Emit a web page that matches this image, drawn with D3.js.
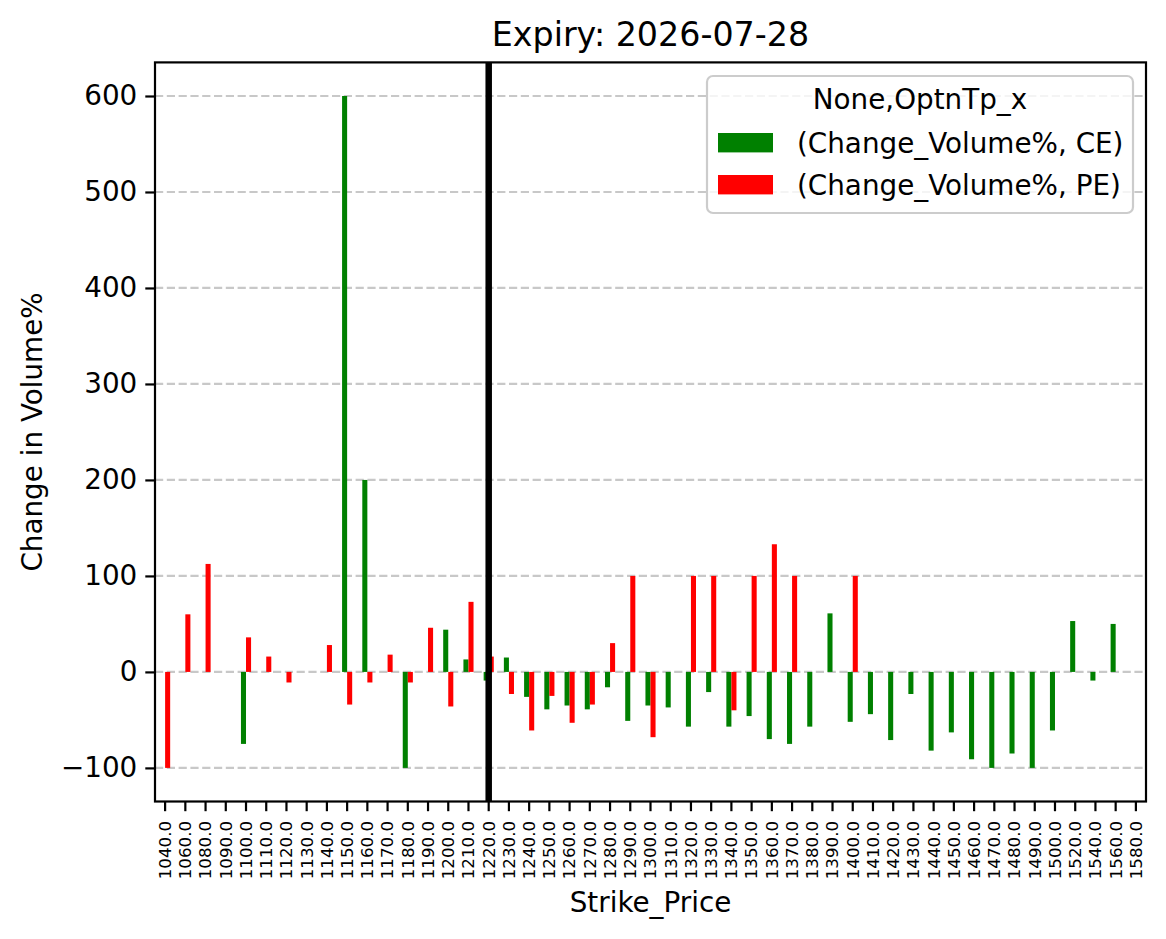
<!DOCTYPE html>
<html>
<head>
<meta charset="utf-8">
<script src="https://cdn.jsdelivr.net/npm/d3@7"></script>
<style>
  body { margin: 0; background: #fff; }
  text { font-family: "DejaVu Sans", sans-serif; }
</style>
</head>
<body>
<div id="my_dataviz"></div>
<script>
// strikes on the x axis
var strikes = [1040, 1060, 1080, 1090, 1100, 1110, 1120, 1130, 1140, 1150, 1160, 1170, 1180, 1190,
               1200, 1210, 1220, 1230, 1240, 1250, 1260, 1270, 1280, 1290, 1300, 1310, 1320, 1330,
               1340, 1350, 1360, 1370, 1380, 1390, 1400, 1410, 1420, 1430, 1440, 1450, 1460, 1470,
               1480, 1490, 1500, 1520, 1540, 1560, 1580];

// (Change_Volume%, CE)
var ceValues = [0, 0, 0, 0, -75, 0, 0, 0, 0, 600, 200, 0, -100, 0,
                44, 13, -9, 15, -26, -39, -35, -39, -16, -51, -35, -37, -57, -21,
                -57, -46, -70, -75, -57, 61, -52, -44, -71, -23, -82, -63, -91, -100,
                -85, -100, -61, 53, -9, 50, 0];

// (Change_Volume%, PE)
var peValues = [-100, 60, 112.5, 0, 36, 16, -11, 0, 28, -34, -11, 18, -11, 46,
                -36, 73, 16, -23, -61, -25, -53, -34, 30, 100, -68, 0, 100, 100,
                -40, 100, 133, 100, 0, 0, 100, 0, 0, 0, 0, 0, 0, 0,
                0, 0, 0, 0, 0, 0, 0];

var seriesKeys = ["CE", "PE"];
var seriesLabels = ["(Change_Volume%, CE)", "(Change_Volume%, PE)"];
var seriesColors = ["green", "red"];
var yTicks = [-100, 0, 100, 200, 300, 400, 500, 600];
var atmStrike = 1220;
var titleText = "Expiry: 2026-07-28";
var legendTitle = "None,OptnTp_x";

function drawChart() {
    var data = strikes.map(function(s, i) {
        return { strike: s, CE: ceValues[i], PE: peValues[i] };
    });

    var W = 1166, H = 939;
    var plotL = 155, plotR = 1146, plotT = 62.4, plotB = 801.5;

    var svg = d3.select("#my_dataviz").append("svg")
        .attr("width", W).attr("height", H);
    svg.append("rect").attr("width", W).attr("height", H).attr("fill", "#fff");

    var x0 = d3.scaleBand().domain(strikes).range([plotL, plotR]).padding(0);
    var x1 = d3.scaleBand().domain(seriesKeys).range([x0.bandwidth() * 0.25, x0.bandwidth() * 0.75]);
    var y = d3.scaleLinear().domain([-135, 635]).range([plotB, plotT]);
    var z = d3.scaleOrdinal().domain(seriesKeys).range(seriesColors);

    // grid
    svg.append("g")
        .selectAll("line")
        .data(yTicks)
        .enter()
        .append("line")
            .attr("x1", plotL).attr("x2", plotR)
            .attr("y1", function(d) { return y(d); })
            .attr("y2", function(d) { return y(d); })
            .attr("stroke", "#c8c8c8")
            .attr("stroke-width", 2.2)
            .attr("stroke-dasharray", "8.2,3.6");

    // bars
    svg.append("g")
        .selectAll("g")
        .data(data)
        .enter()
        .append("g")
            .attr("transform", function(d) { return "translate(" + x0(d.strike) + ",0)"; })
            .selectAll("rect")
            .data(function(d) { return seriesKeys.map(function(key) { return { key: key, value: d[key] }; }); })
            .enter()
            .append("rect")
                .attr("x", function(d) { return x1(d.key); })
                .attr("y", function(d) { return Math.min(y(d.value), y(0)); })
                .attr("width", x1.bandwidth())
                .attr("height", function(d) { return Math.abs(y(d.value) - y(0)); })
                .attr("fill", function(d) { return z(d.key); });

    // ATM line
    svg.append("line")
        .attr("x1", x0(atmStrike) + x0.bandwidth() / 2)
        .attr("x2", x0(atmStrike) + x0.bandwidth() / 2)
        .attr("y1", plotT).attr("y2", plotB)
        .attr("stroke", "#000")
        .attr("stroke-width", 6.5);

    // axes
    var yAxis = svg.append("g")
        .attr("transform", "translate(" + plotL + ",0)")
        .call(d3.axisLeft(y).tickValues(yTicks).tickSize(9.7).tickPadding(8));
    yAxis.select(".domain").remove();
    yAxis.selectAll("line").attr("stroke-width", 2.2);
    yAxis.selectAll("text").attr("font-size", 27.8).attr("fill", "#000")
        .style("font-family", "DejaVu Sans");

    var xAxis = svg.append("g")
        .attr("transform", "translate(0," + plotB + ")")
        .call(d3.axisBottom(x0).tickSize(9.7).tickFormat(function(d) { return d.toFixed(1); }));
    xAxis.select(".domain").remove();
    xAxis.selectAll("line").attr("stroke-width", 2.2);
    xAxis.selectAll("text")
        .attr("font-size", 16.7)
        .attr("fill", "#000")
        .style("font-family", "DejaVu Sans")
        .attr("text-anchor", "end")
        .attr("dy", "0.35em")
        .attr("x", 0)
        .attr("y", 0)
        .attr("transform", "translate(0,19.4) rotate(-90)");

    // frame
    svg.append("rect")
        .attr("x", plotL).attr("y", plotT)
        .attr("width", plotR - plotL).attr("height", plotB - plotT)
        .attr("fill", "none").attr("stroke", "#000").attr("stroke-width", 2.2);

    // labels
    svg.append("text")
        .attr("x", (plotL + plotR) / 2).attr("y", 45.5)
        .attr("text-anchor", "middle").attr("font-size", 33.3)
        .text(titleText);
    svg.append("text")
        .attr("x", (plotL + plotR) / 2).attr("y", 912)
        .attr("text-anchor", "middle").attr("font-size", 27.8)
        .text("Strike_Price");
    svg.append("text")
        .attr("transform", "translate(42," + (plotT + plotB) / 2 + ") rotate(-90)")
        .attr("text-anchor", "middle").attr("font-size", 27.8)
        .text("Change in Volume%");

    // legend
    var lg = svg.append("g");
    lg.append("rect")
        .attr("x", 707).attr("y", 76).attr("width", 426).attr("height", 137).attr("rx", 6)
        .attr("fill", "#fff").attr("fill-opacity", 0.8)
        .attr("stroke", "#cccccc").attr("stroke-width", 2.2);
    lg.append("text")
        .attr("x", 920).attr("y", 109)
        .attr("text-anchor", "middle").attr("font-size", 27.8)
        .text(legendTitle);
    seriesKeys.forEach(function(k, i) {
        lg.append("rect")
            .attr("x", 718).attr("y", 133 + i * 42)
            .attr("width", 55).attr("height", 19.4)
            .attr("fill", z(k));
        lg.append("text")
            .attr("x", 797).attr("y", 153 + i * 42)
            .attr("font-size", 27.8)
            .text(seriesLabels[i]);
    });
}

drawChart();
</script>
</body>
</html>
